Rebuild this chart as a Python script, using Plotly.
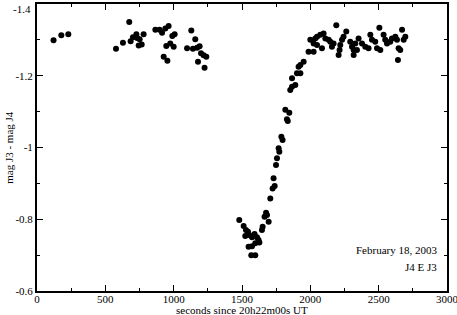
import plotly.graph_objects as go

# segundos desde 20h22m00s UT
t_seg = [121, 178, 229, 578, 629, 675, 685, 702, 727, 732, 751, 744, 766, 780,
         866, 897, 915, 939, 963, 927, 954, 946, 975, 990, 1007, 1000, 1098,
         1129, 1158, 1141, 1171, 1190, 1178, 1200, 1219, 1239, 1226,
         1480, 1512, 1529, 1544, 1524, 1553, 1573, 1592, 1610, 1621, 1597,
         1573, 1548, 1627, 1568, 1597, 1651, 1646, 1695, 1665, 1683, 1676,
         1707, 1724, 1739, 1731, 1749, 1756, 1773, 1768, 1797, 1788, 1829,
         1835, 1846, 1817, 1853, 1866, 1890, 1866, 1902, 1927, 1914, 1927,
         1951, 1987, 2024, 2000, 2024, 2036, 2049, 2049, 2073, 2085, 2097,
         2110, 2134, 2146, 2158, 2170, 2190, 2207, 2214, 2219, 2232, 2243,
         2263, 2292, 2305, 2329, 2317, 2317, 2353, 2341, 2378, 2402, 2426,
         2439, 2451, 2475, 2488, 2505, 2512, 2536, 2548, 2561, 2585, 2597,
         2622, 2634, 2646, 2658, 2641, 2671, 2683, 2695]

# mag J3 - mag J4
dmag = [-1.299, -1.313, -1.316, -1.275, -1.292, -1.350, -1.296, -1.307, -1.316,
        -1.305, -1.302, -1.284, -1.287, -1.316, -1.328, -1.328, -1.320, -1.332,
        -1.339, -1.253, -1.242, -1.283, -1.290, -1.311, -1.316, -1.281, -1.277,
        -1.326, -1.302, -1.275, -1.278, -1.282, -1.239, -1.263, -1.257, -1.253,
        -1.222,
        -0.798, -0.781, -0.770, -0.765, -0.753, -0.756, -0.750, -0.759, -0.750,
        -0.742, -0.733, -0.725, -0.723, -0.735, -0.700, -0.700, -0.779, -0.770,
        -0.793, -0.807, -0.812, -0.818, -0.858, -0.886, -0.893, -0.914, -0.951,
        -0.970, -0.988, -0.998, -1.021, -1.030, -1.079, -1.074, -1.097, -1.105,
        -1.160, -1.169, -1.174, -1.193, -1.207, -1.207, -1.225, -1.230, -1.239,
        -1.267, -1.267, -1.300, -1.290, -1.304, -1.309, -1.286, -1.314, -1.277,
        -1.318, -1.304, -1.300, -1.295, -1.281, -1.290, -1.341, -1.258, -1.272,
        -1.286, -1.300, -1.309, -1.323, -1.295, -1.281, -1.290, -1.272, -1.258,
        -1.304, -1.272, -1.290, -1.281, -1.277, -1.314, -1.300, -1.295, -1.277,
        -1.334, -1.272, -1.314, -1.300, -1.290, -1.295, -1.304, -1.309, -1.300,
        -1.277, -1.272, -1.244, -1.328, -1.300, -1.309]

x_ticks = [0, 500, 1000, 1500, 2000, 2500, 3000]
y_ticks = [-1.4, -1.2, -1.0, -0.8, -0.6]
y_labels = ["", "-1.2", "-1", "-0.8", "-0.6"]  # el -1.4 va como anotación

fig = go.Figure(go.Scatter(
    x=t_seg, y=dmag, mode="markers",
    marker=dict(color="black", size=6),
    showlegend=False,
))

ejes = dict(
    showgrid=False, zeroline=False, automargin=False,
    showline=True, linecolor="black", linewidth=2, mirror="ticks",
    ticks="inside", ticklen=6, tickwidth=1, tickcolor="black",
    tickfont=dict(size=11, color="black"),
    ticklabeloverflow="allow",
)

fig.update_xaxes(
    range=[0, 3000], tickvals=x_ticks, ticklabelstandoff=-3,
    minor=dict(tickvals=[250, 750, 1250, 1750, 2250, 2750],
               ticks="inside", ticklen=3, tickcolor="black"),
    **ejes,
)
fig.update_yaxes(
    range=[-0.6, -1.4], tickvals=y_ticks, ticktext=y_labels,
    minor=dict(tickvals=[-1.3, -1.1, -0.9, -0.7], ticks="inside", ticklen=3, tickcolor="black"),
    **ejes,
)

# títulos de los ejes y etiqueta superior
fig.add_annotation(x=0.5, y=-0.066, xref="paper", yref="paper",
                   text="seconds since 20h22m00s UT", showarrow=False,
                   xanchor="center", yanchor="middle", font=dict(size=11))
fig.add_annotation(x=-0.07, y=0.5, xref="paper", yref="paper",
                   text="mag J3 - mag J4", showarrow=False, textangle=-90,
                   xanchor="center", yanchor="middle", font=dict(size=11))
fig.add_annotation(x=-0.0098, y=1.012, xref="paper", yref="paper",
                   text="-1.4", showarrow=False,
                   xanchor="right", yanchor="top", font=dict(size=11))

fig.add_annotation(x=2944, y=-0.714, text="February 18, 2003", showarrow=False,
                   xanchor="right", font=dict(size=11))
fig.add_annotation(x=2944, y=-0.666, text="J4 E J3", showarrow=False,
                   xanchor="right", font=dict(size=11))

fig.update_layout(
    width=457, height=315,
    margin=dict(l=37, r=10, t=4, b=24),
    plot_bgcolor="white", paper_bgcolor="white",
    font=dict(family="Liberation Serif", size=11, color="black"),
)

# quitar el margen del body para que el gráfico quede en (0, 0)
fig.write_html("out.html", config={"displayModeBar": False},
               post_script="document.body.style.margin='0';")
